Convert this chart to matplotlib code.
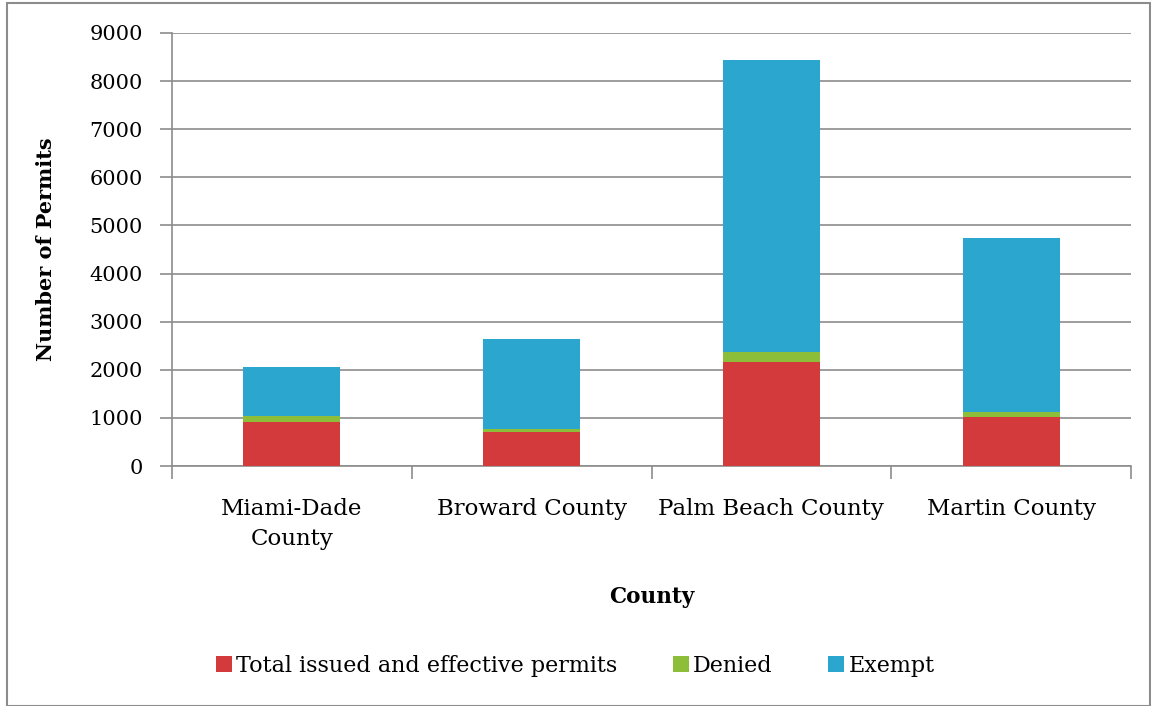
import matplotlib
matplotlib.use('Agg')
import matplotlib.pyplot as plt
import numpy as np
from matplotlib.patches import Rectangle

plt.rcParams['font.family'] = ['DejaVu Serif']

counties = ['Miami-Dade\nCounty', 'Broward County', 'Palm Beach County', 'Martin County']
issued = [920, 710, 2170, 1020]
denied = [120, 60, 200, 110]
exempt = [1010, 1870, 6070, 3610]

colors = ['#D23A3C', '#8DBE3A', '#2BA6CF']
labels = ['Total issued and effective permits', 'Denied', 'Exempt']

fig = plt.figure(figsize=(11.51, 7.06), dpi=100)
ax = fig.add_axes([172 / 1151, 1 - 466 / 706, (1131 - 172) / 1151, (466 - 33) / 706])

x = np.arange(len(counties))
issued = np.array(issued)
denied = np.array(denied)
exempt = np.array(exempt)
w = 0.405
ax.bar(x, issued, w, color=colors[0], label=labels[0], zorder=3)
ax.bar(x, denied, w, bottom=issued, color=colors[1], label=labels[1], zorder=3)
ax.bar(x, exempt, w, bottom=issued + denied, color=colors[2], label=labels[2], zorder=3)

ax.set_xlim(-0.5, 3.5)
ax.set_ylim(0, 9000)
ax.set_yticks(np.arange(0, 9001, 1000))
ax.yaxis.grid(True, color='#8c8c8c', linewidth=1.2, zorder=0)
ax.tick_params(axis='y', labelsize=15, length=9, width=1.2, color='#8c8c8c', pad=12)
ax.set_xticks(x)
ax.set_xticklabels(counties, linespacing=1.45)
ax.tick_params(axis='x', labelsize=16.5, length=0, pad=23)
ax.set_xticks(np.arange(-0.5, 4, 1), minor=True)
ax.tick_params(axis='x', which='minor', length=9, width=1.2, color='#8c8c8c')
for s in ['top', 'right']:
    ax.spines[s].set_visible(False)
for s in ['left', 'bottom']:
    ax.spines[s].set_color('#8c8c8c')
    ax.spines[s].set_linewidth(1.2)

ax.set_ylabel('Number of Permits', fontsize=15, fontweight='bold', labelpad=24)
ax.set_xlabel('County', fontsize=15.5, fontweight='bold', labelpad=26)

fig.legend(loc='center', bbox_to_anchor=(0.5, 1 - 666 / 706), ncol=3, frameon=False,
           fontsize=16, handlelength=0.7, handleheight=0.7, handletextpad=0.2,
           columnspacing=2.5)

fig.patches.append(Rectangle((7 / 1151, 0), 1143 / 1151, 1 - 3 / 706, transform=fig.transFigure,
                             fill=False, edgecolor='#8c8c8c', linewidth=1.5))

fig.savefig('out.png', dpi=100)
